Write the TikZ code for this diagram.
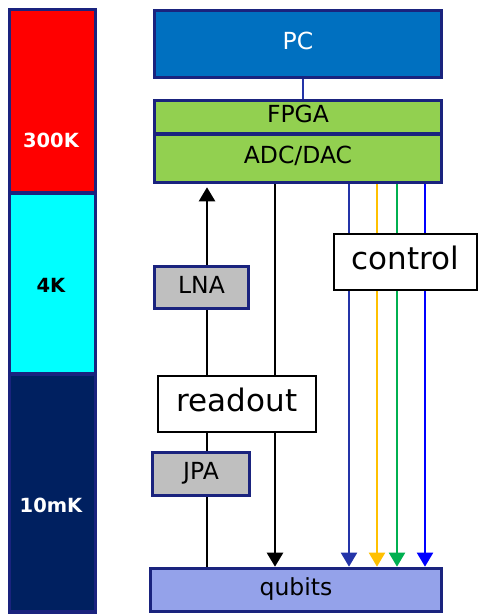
\documentclass[tikz,border=0pt]{standalone}
\usepackage{fontspec}
\setmainfont{DejaVu Sans}
\usetikzlibrary{arrows.meta}
\pgfdeclarelayer{bg}
\pgfsetlayers{bg,main}

\definecolor{edgeblue}{RGB}{26,35,126}
\definecolor{pcblue}{HTML}{0070C0}
\definecolor{fpgagreen}{HTML}{92D050}
\definecolor{ampgray}{HTML}{BFBFBF}
\definecolor{qubitfill}{RGB}{148,162,234}
\definecolor{hotred}{HTML}{FF0000}
\definecolor{midcyan}{HTML}{00FFFF}
\definecolor{coldnavy}{HTML}{002060}
\definecolor{linkblue}{RGB}{36,52,168}
\definecolor{ctrlA}{RGB}{36,52,168}
\definecolor{ctrlB}{HTML}{FFC000}
\definecolor{ctrlC}{HTML}{00B050}
\definecolor{ctrlD}{HTML}{0000FF}

\begin{document}
\begin{tikzpicture}[x=1pt,y=-1pt,
  block/.style={draw=edgeblue, line width=3.6pt, rectangle, inner sep=0pt,
    font=\fontsize{23.5}{27}\selectfont, text height=17pt, text depth=5.9pt},
  tag/.style={draw=black, line width=2.5pt, fill=white, rectangle, inner sep=0pt,
    font=\fontsize{31}{36}\selectfont, text height=22.6pt, text depth=7.75pt},
  stage/.style={draw=edgeblue, line width=3.6pt, rectangle, inner sep=0pt,
    minimum width=86pt},
  stagetext/.style={font=\fontsize{19.5}{23}\bfseries\selectfont, inner sep=0pt},
  wire/.style={line width=2.4pt},
  cwire/.style={line width=2pt},
  tip/.style={-{Triangle[width=16pt,length=14pt]}}
]
\useasboundingbox (0,0) rectangle (480,615);

% temperature stages
\node[stage, fill=hotred, minimum height=183.5pt] (hot) at (52.5,101.25) {};
\node[stage, fill=midcyan, minimum height=181pt] (mid) at (52.5,283.5) {};
\node[stage, fill=coldnavy, minimum height=238pt] (cold) at (52.5,493) {};
\node[stagetext, text=white] (t300) at (51,140.5) {300K};
\node[stagetext, text=black] (t4) at (51,285) {4K};
\node[stagetext, text=white] (t10) at (51,505.5) {10mK};

% electronics chain
\node[block, fill=pcblue, text=white, minimum width=287pt, minimum height=67pt] (PC) at (298,44) {PC};
\node[block, fill=fpgagreen, minimum width=287pt, minimum height=33.5pt] (FPGA) at (298,117.25) {FPGA};
\node[block, fill=fpgagreen, minimum width=287pt, minimum height=48.5pt] (ADC) at (298,158.25) {ADC/DAC};
\node[block, fill=ampgray, minimum width=94pt, minimum height=42pt] (LNA) at (201.5,287.5) {LNA};
\node[block, fill=ampgray, minimum width=97pt, minimum height=43pt] (JPA) at (201,474) {JPA};
\node[block, fill=qubitfill, minimum width=291pt, minimum height=43pt] (Q) at (296,590) {qubits};

% labels
\node[tag, minimum width=158pt, minimum height=56pt] (readout) at (237,404) {readout};
\node[tag, minimum width=143pt, minimum height=56pt] (control) at (405.5,262) {control};

% line positions
\coordinate (pcx) at (303,0);
\coordinate (rx) at (207,0);
\coordinate (dx) at (275,0);
\coordinate (c1) at (349,0);
\coordinate (c2) at (377,0);
\coordinate (c3) at (397,0);
\coordinate (c4) at (425,0);

\begin{pgfonlayer}{bg}
  \draw[cwire, linkblue] (PC.south -| pcx) -- (FPGA.north -| pcx);
  \draw[wire, tip, shorten >=3pt] (Q.north -| rx) -- (ADC.south -| rx);
  \draw[wire, tip] (ADC.south -| dx) -- (Q.north -| dx);
  \draw[cwire, tip, ctrlA] (ADC.south -| c1) -- (Q.north -| c1);
  \draw[cwire, tip, ctrlB] (ADC.south -| c2) -- (Q.north -| c2);
  \draw[cwire, tip, ctrlC] (ADC.south -| c3) -- (Q.north -| c3);
  \draw[cwire, tip, ctrlD] (ADC.south -| c4) -- (Q.north -| c4);
\end{pgfonlayer}
\end{tikzpicture}
\end{document}
